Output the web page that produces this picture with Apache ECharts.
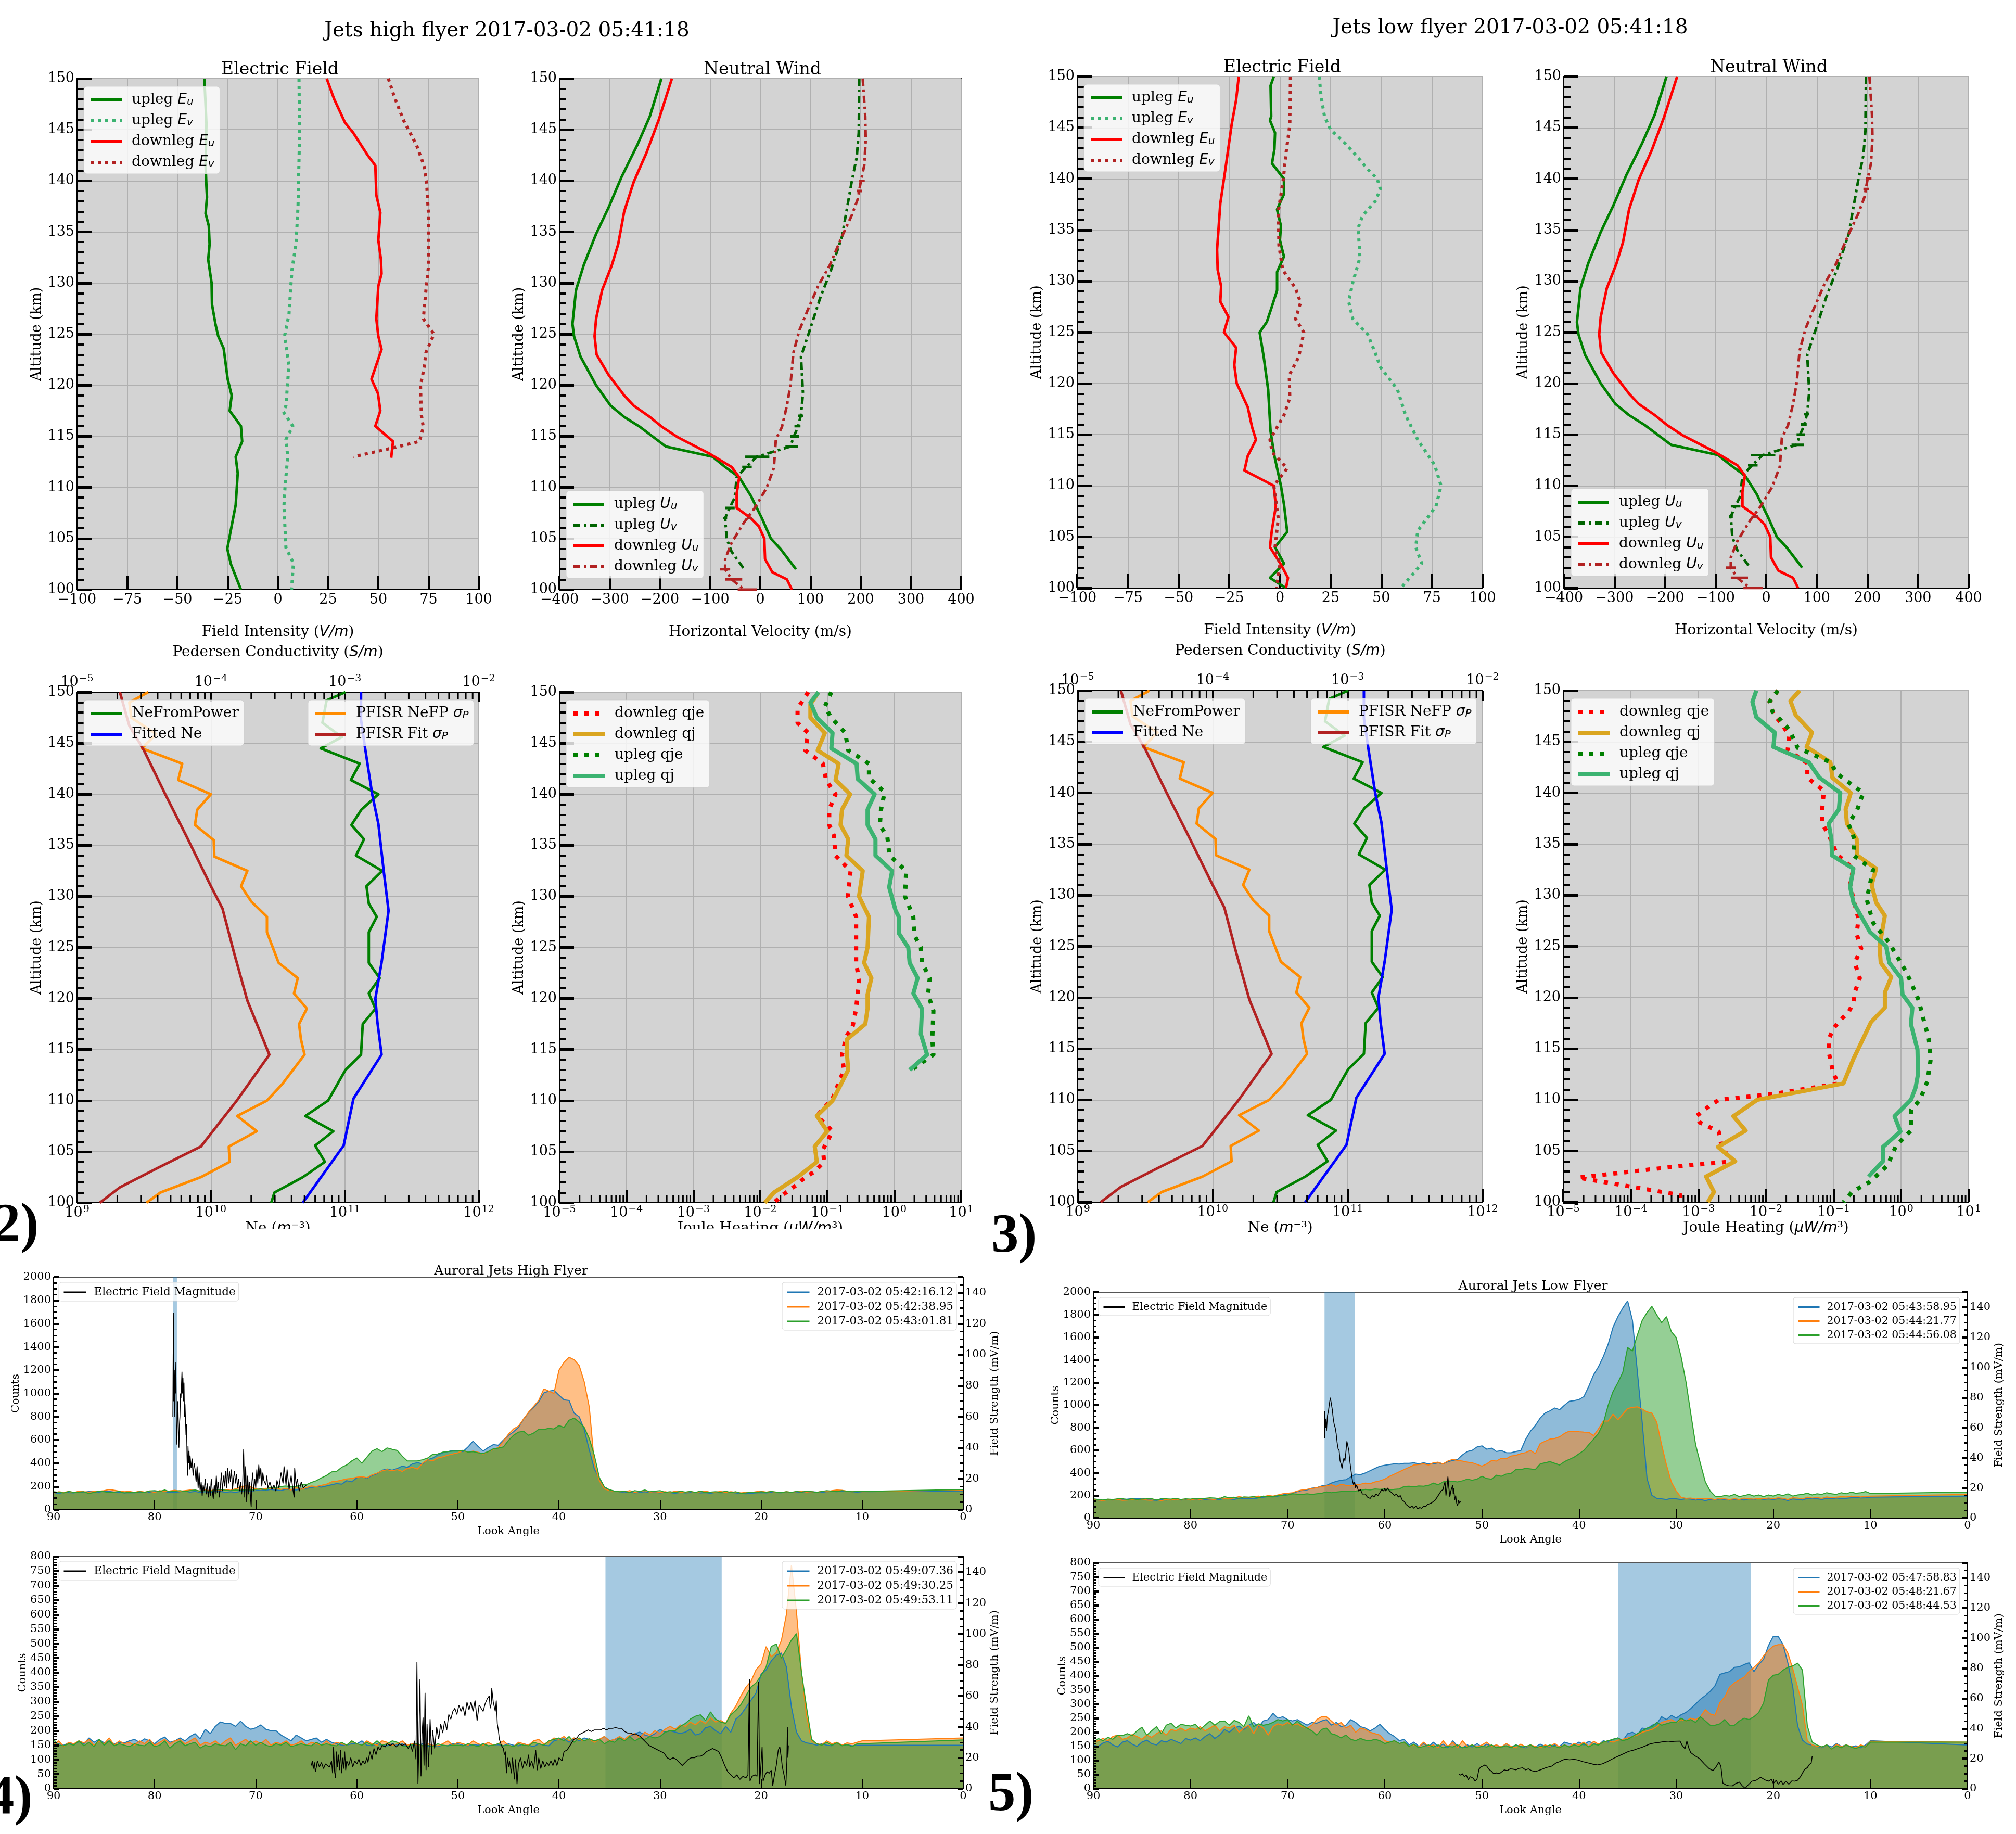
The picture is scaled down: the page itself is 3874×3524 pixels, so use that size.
<!DOCTYPE html>
<html><head><meta charset="utf-8">
<style>html,body{margin:0;padding:0;background:#fff}#c{width:3874px;height:3524px}</style>
<script src="https://cdn.jsdelivr.net/npm/echarts@6/dist/echarts.min.js"></script>
</head><body><div id="c"></div>
<script>
/* ---------- profile data: [value, altitude km] ---------- */
const upEuHigh=[[-36.6,150],[-36,147.4],[-35.6,145.6],[-36,141.5],[-35.6,139.5],[-35.3,138.4],[-36,136.8],[-34.4,135.6],[-34,133.8],[-34.7,132.3],[-33,130],[-32.8,127.9],[-31,125.9],[-29.7,124.8],[-27,123.6],[-25,120.6],[-23,119],[-24,117.5],[-18.4,116],[-17.8,114.5],[-21,113],[-20,111.4],[-21,108.3],[-25.2,104],[-23.4,102.5],[-18.4,100]];
const upEvHigh=[[10.5,150],[10.8,144.7],[10,137.4],[9,133.8],[7,131.3],[5.5,126.9],[3.3,124.8],[5.5,122],[4,118],[2.7,117.4],[7.4,116],[4,114.7],[4.9,113],[3.6,110.2],[3,108.2],[4,104.1],[7.7,102.6],[6.8,100]];
const downEuHigh=[[24.3,150],[28,148],[33.4,145.7],[37.5,144.7],[44.7,142.5],[48.5,141.5],[49,138.6],[51,136.9],[50,134.2],[51.3,132.3],[51.6,130.9],[50,129.7],[49,126.5],[50,124.8],[51.6,123.5],[49,122],[46.6,120.6],[49.8,119.2],[51,117.5],[48.5,116],[57.3,114.5],[56.4,112.9]];
const downEvHigh=[[55,150],[58,148.2],[62.6,145.9],[69,143.5],[72.7,141.5],[74,139.9],[75,136.6],[75,131.7],[73.7,129.3],[72.4,126.5],[77.7,125],[73.7,123.2],[72.7,121.6],[71,120],[71.4,117.1],[72.4,115.9],[70.5,114.5],[58,113.9],[37.5,113]];
const upEuLow=[[-3,150],[-4.6,149.1],[-4.3,146.1],[-4.9,145.7],[-2.4,144.5],[-2.7,142.9],[-3.9,141.5],[2,140],[2,138.5],[-1.4,137],[0.5,135.4],[0,134],[2,132.4],[-1.4,130.9],[-1.4,129.1],[-4.3,127.3],[-6.5,126],[-10,125],[-8,122.6],[-5.8,119.4],[-4.6,115.3],[-2.7,112.9],[0.5,110],[2,108.2],[3.6,105.5],[-2.4,104],[2,102.4],[-4.9,101],[3,100]];
const upEvLow=[[19.4,150],[20.3,148.1],[22,146.1],[25,144.8],[32,143.5],[37.6,142.3],[43,141],[48,140],[49.6,139],[47,137.8],[40.8,136.4],[38.6,135.2],[39.5,132.3],[36,129.9],[33.9,128],[36,126.3],[43.3,124.8],[47,123],[49.6,121.6],[58,119.4],[62,116.9],[68,114.5],[76.4,112],[79.5,110],[77,108],[68,105.6],[67,104],[70,102.4],[59.7,100]];
const downEuLow=[[-20.3,150],[-21.6,147.7],[-23.8,145.3],[-27,140.8],[-29.4,137.6],[-31,133.1],[-30.7,131.1],[-29,129.5],[-29.4,128],[-25.4,126.5],[-27.6,125],[-21.6,123.5],[-22.5,121.8],[-21.3,120],[-15.9,117.7],[-13.7,115.7],[-11.8,114.5],[-15.9,112.9],[-17.5,111.5],[-3,110],[-2,108],[-4,105.6],[-4.9,104],[0.5,102.3],[4,101],[3,100]];
const downEvLow=[[5.2,150],[4.9,145.3],[3,142.5],[1.7,140],[-0.8,136.8],[-0.5,133.5],[1.4,131.1],[7.7,129.3],[10.2,127.9],[7.7,126.3],[11.8,125],[9.3,122.6],[4.6,120.8],[4.9,118.6],[2,116.9],[-4.9,114.5],[-3.9,113.3],[3.6,111.7],[-3,110],[-0.8,106.8],[-2.4,104],[0,102.3],[-1.7,100]];

const upUu=[[-197,150],[-220,146.3],[-245,143.5],[-277,140.3],[-302,137.4],[-327,134.8],[-352,131.7],[-367,129.3],[-374,126],[-371,124.8],[-358,122.8],[-327,120],[-298,118],[-271,116.9],[-239,115.9],[-188,114],[-95,113],[-70,112],[-42,111],[-19,109.2],[3,107],[21,105],[40,104],[71,102]];
const upUv=[[197,150],[196,144.7],[192,142.3],[182,139.9],[169,136.3],[163,134.6],[141,131.3],[119,128.5],[100,125.6],[81,122.8],[85,119.2],[81,117.1],[75,115.9],[66,114.9],[60,114],[-7,113],[-28,112],[-47,111],[-51,109],[-61,108],[-70,107],[-67,105],[-57,103.7],[-32,102]];
const downUu=[[-176,150],[-202,146],[-227,142.7],[-252,139.9],[-271,137],[-283,133.8],[-296,131.7],[-315,129.3],[-327,126.5],[-330,124.8],[-326,123],[-302,121],[-271,119],[-252,118],[-220,116.9],[-195,115.9],[-164,114.9],[-101,113.3],[-57,112],[-42,111],[-47,109.4],[-47,108],[-19,107],[-3,106.2],[8,105],[9.5,103],[24,101.7],[53,101],[63,100]];
const downUv=[[204,150],[209,146.3],[210,144],[207,141.5],[200,139.9],[194,138.2],[182,136.6],[163,134.6],[138,131.7],[115,129.7],[94,127.3],[78,125.4],[66,123.2],[60,120],[53,118],[43,115.9],[31,114.7],[27,111.9],[12,109.9],[-11,108],[-32,106.6],[-57,104.6],[-70,103],[-70,102],[-57,101],[-32,100]];
const gap=['-','-'];
const upUvRuns=[[50,114],[75,114],gap,[-30,113],[18,113],gap,[-36,112],[-17,112],gap,[60,115],[77,115],gap,[68,116],[80,116],gap,[75,117],[85,117],gap,[-70,108],[-51,108],gap,[-74,107],[-66,107]];
const downUvRuns=[[-45,100],[-7,100],gap,[-70,101],[-36,101],gap,[-80,102],[-60,102],gap,[-27,107],[-16,107],gap,[197,140],[208,140],gap,[192,139],[203,139]];

const neFromPower=[[1.01e11,150],[7.3e10,149.2],[6.8e10,147],[9.5e10,145.6],[6.6e10,144.5],[1.29e11,143],[1.11e11,141.4],[1.78e11,140],[1.33e11,138.5],[1.12e11,137],[1.39e11,135.6],[1.21e11,134],[1.9e11,132.5],[1.45e11,131],[1.51e11,129.3],[1.73e11,128],[1.51e11,126.5],[1.51e11,123.5],[1.82e11,122],[1.51e11,120.5],[1.69e11,119],[1.36e11,117.5],[1.32e11,114.5],[1.01e11,113],[7.5e10,110],[5.07e10,108.5],[8.2e10,107],[6e10,105.6],[7.1e10,104],[4.85e10,102.5],[2.98e10,101],[2.82e10,100]];
const fittedNe=[[1.32e11,150],[1.32e11,147.3],[1.41e11,144.7],[1.6e11,140],[1.78e11,137.1],[1.95e11,132.5],[2.12e11,128.6],[1.88e11,123.5],[1.69e11,120],[1.75e11,117.7],[1.88e11,114.5],[1.16e11,110.2],[9.8e10,105.6],[4.85e10,100]];
const sigmaNeFP=[[3.4e-5,150],[2.46e-5,149],[2.54e-5,147.5],[3.9e-5,145.9],[3.05e-5,144.5],[6.1e-5,143],[5.7e-5,141.4],[1e-4,140],[7.9e-5,138.5],[7.6e-5,137],[1.05e-4,135.5],[1.06e-4,133.9],[1.87e-4,132.5],[1.68e-4,131],[2e-4,129.5],[2.62e-4,128],[2.62e-4,126.5],[3.2e-4,123.5],[4.45e-4,122],[4.17e-4,120.5],[5.2e-4,119],[4.55e-4,117.5],[4.7e-4,116],[5e-4,114.5],[3.4e-4,111.6],[2.62e-4,110],[1.57e-4,108.5],[2.2e-4,107],[1.36e-4,105.5],[1.38e-4,104],[8.4e-5,102.5],[4.2e-5,101],[3.3e-5,100]];
const sigmaFit=[[2.09e-5,150],[2.46e-5,146.7],[3.16e-5,144.3],[4.56e-5,140],[6.5e-5,136],[1e-4,131],[1.22e-4,128.8],[1.5e-4,124.3],[1.87e-4,119.8],[2.73e-4,114.5],[1.56e-4,110],[8.4e-5,105.5],[4e-5,103.4],[2.09e-5,101.5],[1.48e-5,100]];

const dnQjeHigh=[[.052,150],[.036,148.4],[.036,147],[.052,146],[.047,144.3],[.086,143],[.096,141.4],[.133,140],[.107,138.5],[.107,137],[.125,136],[.133,134],[.223,132.5],[.204,130],[.27,128],[.27,123.5],[.298,121.8],[.27,119],[.24,117.3],[.193,116.3],[.166,114.5],[.177,113],[.12,110.2],[.07,108.5],[.12,107],[.086,105.2],[.09,104],[.063,103],[.047,102.5],[.034,101.7],[.021,100.7],[.016,100]];
const dnQjHigh=[[.074,150],[.056,148.8],[.056,147.5],[.092,146],[.072,144.3],[.148,143],[.133,141.4],[.22,140],[.166,138.5],[.158,137],[.206,135.6],[.193,134],[.339,132.5],[.298,130],[.42,128],[.4,125],[.355,123.5],[.457,122],[.4,120.4],[.4,119],[.37,117.5],[.197,116],[.197,114.5],[.206,113],[.12,110],[.07,108.5],[.1,107],[.065,105.5],[.07,104],[.036,102.5],[.016,101],[.0117,100]];
const upQjeHigh=[[.115,150],[.092,148.6],[.115,147.5],[.186,146],[.206,144.3],[.42,143],[.42,141.6],[.72,140.2],[.635,138.5],[.61,137],[.79,135.8],[.85,134],[1.51,132.5],[1.45,130],[1.93,128],[2,126.2],[2.5,125],[2.6,123.5],[3.4,122],[3.2,120.4],[3.85,118.8],[3.7,116],[3.85,114.5],[1.8,113]];
const upQjHigh=[[.074,150],[.056,149],[.07,147.5],[.12,146],[.115,144.5],[.274,143],[.285,141.5],[.51,140],[.4,138.5],[.4,137],[.525,135.6],[.525,134],[.93,132.5],[.84,130.9],[1.05,128.6],[1.17,128],[1.17,126.4],[1.62,125],[1.7,123.5],[2.24,122],[1.93,120.5],[2.6,119],[2.5,116.5],[3.1,114.5],[1.7,113]];
const dnQjeLow=[[.015,150],[.0113,148.9],[.0129,147.7],[.017,146.8],[.022,145.6],[.021,144.2],[.041,142.9],[.041,141.5],[.072,140.2],[.068,138.4],[.068,137],[.085,135.9],[.112,134],[.197,132.6],[.176,131.2],[.197,129.6],[.234,127.7],[.22,126.2],[.257,124.8],[.206,123.4],[.245,121.9],[.206,120.5],[.197,119.5],[.168,118.6],[.126,117.8],[.1,117],[.086,116],[.086,114.5],[.1,112.5],[.12,111.6],[.0135,110.6],[.002,110],[.00145,109.4],[.00093,108.4],[.00104,107.8],[.002,106.9],[.0022,105.5],[.0028,104.4],[.0034,104],[.00048,103.5],[.0000166,102.4],[.00054,100.7],[.00054,100]];
const dnQjLow=[[.0316,150],[.023,149],[.0275,147.6],[.048,145.9],[.04,144.5],[.09,143],[.096,141.5],[.18,140],[.151,138.4],[.158,137],[.22,135.5],[.224,133.9],[.427,132.6],[.367,131],[.427,129.3],[.575,128],[.48,125],[.5,123.4],[.716,122],[.575,120.5],[.575,119],[.359,117.6],[.275,116],[.197,114],[.14,111.6],[.0074,110],[.0033,108.4],[.005,107],[.00195,105.4],[.0035,104],[.0013,102.5],[.0017,101],[.00138,100]];
const upQjeLow=[[.015,150],[.0113,148.9],[.0126,147.9],[.0162,147.2],[.022,146.2],[.026,145.2],[.0295,144.4],[.09,143],[.112,141.9],[.275,140],[.22,138.2],[.166,137],[.204,135.5],[.197,133.9],[.385,132.5],[.31,129.6],[.385,127.3],[.676,125.3],[.84,124.2],[1.17,122.6],[1.4,121.5],[1.83,119.7],[2.2,117.6],[2.57,116],[2.75,114],[2.45,111.8],[1.9,110],[1.4,109],[1.4,107],[.84,105.5],[.63,103.6],[.347,102],[.188,101],[.14,100]];
const upQjLow=[[.0072,150],[.0063,148.9],[.0072,147.4],[.0135,145.9],[.0129,144.5],[.043,143],[.0617,141.5],[.126,140],[.12,138.4],[.085,137],[.093,135.5],[.095,133.9],[.197,132.6],[.176,130.8],[.197,129.3],[.347,126.4],[.6,125],[.67,123.4],[1,121.9],[1.05,120.3],[1.47,119],[1.4,117.4],[1.75,114.9],[1.78,112.5],[1.64,111.2],[1.4,110],[.8,108.4],[.98,106.9],[.54,105.4],[.54,104],[.33,102.5]];

/* ---------- look-angle scans: counts sampled at 90..10 by 0.5 deg, then 0 ---------- */
const lookAngles=Array.from({length:161},(_,i)=>90-i*0.5).concat([0]);
const c1Blue=[150,140,152,148,145,155,150,158,155,152,160,158,152,150,145,148,146,150,148,152,
155,160,158,148,150,155,160,152,158,150,155,148,162,158,150,155,150,158,165,160,
165,172,168,175,170,165,178,172,170,180,185,190,200,195,205,215,225,220,250,240,
275,285,270,295,310,340,350,340,355,375,365,395,405,395,430,445,470,490,500,510,
510,500,540,590,545,505,535,560,555,600,640,670,710,780,835,880,930,1005,1020,1027,
985,945,940,830,800,690,515,350,270,195,170,160,155,150,152,145,150,155,148,150,
145,150,148,142,150,145,148,150,145,148,142,150,146,148,150,145,140,138,142,145,
148,145,150,148,146,152,150,148,152,150,155,152,150,155,158,155,160,158,155,152,
155,162];
const c1Orange=[145,155,150,158,148,160,155,152,158,160,165,175,168,160,155,158,150,160,152,158,
150,165,158,162,168,160,165,170,168,160,170,165,172,165,175,168,180,195,208,200,
180,175,185,180,190,175,185,170,195,175,190,205,200,210,220,240,245,255,265,270,
280,285,275,300,315,335,345,335,345,330,355,365,350,400,430,420,445,455,470,480,
490,510,495,505,495,480,500,520,535,590,650,695,720,780,840,890,940,1040,1020,1000,
1200,1267,1311,1290,1240,1100,883,400,250,180,165,160,158,155,165,150,158,165,152,155,
150,155,148,160,152,150,158,148,155,160,150,152,158,148,155,150,145,150,148,155,
160,152,158,150,148,155,150,155,158,152,155,150,158,155,165,170,168,160,155,158,
155,170];
const c1Green=[155,150,145,158,150,152,155,140,150,160,155,148,152,158,145,150,148,155,150,162,
165,158,170,155,160,165,158,165,170,160,165,158,172,175,168,165,170,168,172,170,
175,180,172,195,190,200,205,198,200,215,215,235,250,275,295,325,330,365,385,420,
445,400,452,505,525,500,532,520,510,460,420,420,420,430,444,476,480,495,500,505,
505,511,495,500,490,484,500,524,530,540,596,640,668,675,640,660,692,690,700,695,
724,708,770,788,755,708,612,468,276,196,172,160,155,158,150,165,158,170,155,160,
165,150,155,148,160,152,158,150,160,148,152,155,150,160,148,155,142,145,150,148,
155,150,158,152,148,155,150,158,152,160,155,150,158,165,160,158,165,160,155,158,
158,175];
const c2Blue=[165,160,158,165,160,170,165,168,172,170,175,165,160,158,165,160,165,168,160,165,
165,170,160,165,162,168,165,175,170,165,178,172,175,170,180,185,190,188,195,205,
215,220,235,245,250,265,270,285,290,310,325,335,340,365,390,385,400,420,440,460,
468,475,480,478,485,485,490,480,490,480,480,490,480,500,510,520,560,590,600,630,
640,610,620,590,598,580,578,590,598,697,770,820,886,930,950,975,960,1000,1035,1040,
1050,1076,1166,1270,1340,1430,1540,1690,1784,1860,1924,1750,1300,850,350,202,175,170,165,175,
170,165,172,168,160,165,155,165,160,170,165,160,168,165,160,170,165,175,165,170,
165,172,168,155,170,165,160,175,170,172,165,175,170,178,172,175,180,185,178,180,
185,195];
const c2Orange=[165,160,155,165,160,165,158,160,165,160,168,160,158,165,155,165,160,168,160,170,
160,170,165,172,168,165,178,175,170,180,190,182,180,190,195,190,200,195,205,215,
220,225,240,250,255,262,270,280,285,295,280,300,290,285,295,300,310,305,320,330,
345,370,390,410,430,450,470,475,480,470,490,495,480,505,520,510,505,495,490,475,
460,480,510,505,530,525,550,555,570,580,600,570,660,680,700,705,720,750,770,770,
765,762,760,730,790,860,860,920,870,920,970,980,985,965,940,930,850,650,470,320,
240,185,175,178,168,175,170,172,165,175,170,165,172,165,178,170,168,175,170,178,
172,180,175,165,180,178,170,185,178,182,175,188,180,185,190,188,195,190,188,192,
195,210];
const c2Green=[170,165,160,168,165,170,172,165,170,165,168,170,172,160,172,170,168,175,165,170,
168,175,172,175,180,178,172,190,180,185,175,188,185,190,180,195,190,192,198,200,
205,215,212,210,215,210,215,220,232,225,230,235,240,235,240,245,255,250,258,255,
258,250,255,258,280,282,278,285,282,290,310,295,320,330,325,320,330,345,335,345,
370,350,345,380,370,390,395,430,430,440,435,430,480,490,500,485,470,500,520,540,
570,600,650,700,750,840,1000,1120,1200,1290,1510,1480,1620,1750,1820,1875,1800,1730,1784,1650,
1600,1430,1210,927,650,480,320,240,195,190,200,195,210,190,200,210,195,205,190,205,
195,210,200,215,195,205,210,220,205,215,210,225,215,210,225,215,230,220,225,235,
218,230];
const c3Blue=[160,155,150,158,152,162,155,175,160,170,158,165,155,160,158,165,170,160,172,165,
155,170,178,160,165,175,165,180,190,172,205,190,215,230,225,225,215,233,215,205,
210,220,205,200,200,185,175,165,185,175,165,170,175,160,170,160,155,150,150,155,
155,165,150,148,155,150,148,155,150,155,145,150,148,155,145,150,145,150,148,155,
155,150,148,152,150,155,148,150,152,148,155,150,148,155,150,145,155,150,148,165,
170,172,160,175,165,175,170,165,170,180,165,170,175,165,180,190,195,185,180,190,
205,195,200,195,190,195,205,185,190,210,215,200,190,215,195,240,255,280,305,330,
395,410,440,460,468,420,282,195,165,158,155,150,155,150,148,160,150,152,148,150,
150,150];
const c3Orange=[150,165,145,160,155,165,158,170,150,165,155,175,150,165,155,160,150,165,155,170,
150,160,170,155,165,170,155,165,175,150,160,155,165,150,165,175,150,160,170,155,
165,155,170,150,160,155,165,150,155,165,150,160,155,150,165,150,160,155,150,165,
155,150,165,155,150,165,160,150,155,165,150,155,150,148,155,150,148,155,165,150,
160,155,150,165,155,150,160,150,155,165,150,145,160,155,150,165,170,155,160,175,
170,180,165,175,170,165,172,160,170,180,165,170,180,170,185,190,175,195,185,200,
190,205,215,205,220,215,230,220,235,225,245,230,235,225,260,285,320,350,370,410,
430,490,455,470,510,600,771,610,400,250,165,155,152,165,155,160,150,158,155,160,
165,175];
const c3Green=[170,150,148,155,150,165,148,160,145,170,150,165,148,155,150,145,155,150,148,160,
145,150,165,140,155,165,148,155,160,140,150,145,155,150,148,160,135,155,148,165,
150,160,150,145,155,150,160,145,150,155,150,148,160,150,155,150,148,160,150,165,
155,150,160,150,165,150,155,165,160,148,145,152,155,148,150,145,155,150,148,150,
150,148,155,150,145,155,148,150,155,148,150,145,155,150,148,160,155,150,165,170,
175,165,180,160,175,165,172,165,170,155,165,160,175,165,180,165,175,170,180,175,
180,195,200,200,215,225,240,250,255,235,265,240,230,225,255,270,290,320,350,365,
390,420,490,499,450,480,512,535,400,280,170,155,150,160,150,158,148,152,145,155,
155,168];
const c4Blue=[155,150,162,168,155,148,165,170,158,150,165,172,160,155,170,165,175,168,160,178,
172,180,170,185,195,178,190,210,200,215,222,210,225,235,218,240,245,267,250,255,
245,240,245,235,225,235,232,240,245,225,235,220,225,245,235,220,215,205,215,228,
210,195,185,170,175,155,165,150,160,148,165,150,158,145,170,150,145,155,148,160,
148,158,150,155,145,160,148,155,150,145,155,148,158,150,148,155,150,165,160,155,
165,155,168,160,155,170,165,175,180,170,195,200,190,215,212,225,230,255,245,260,
250,262,270,284,300,317,330,345,365,405,410,415,430,432,440,446,415,440,459,507,
540,540,510,445,360,223,172,158,155,150,145,155,148,160,150,155,148,152,145,155,
170,155];
const c4Orange=[165,170,178,170,185,190,175,180,192,185,175,190,182,195,205,190,210,205,215,205,
215,210,220,205,215,225,205,220,215,225,200,215,225,195,225,215,190,220,230,225,
235,225,230,220,215,225,245,255,255,240,225,235,215,225,200,215,210,200,195,190,
170,165,170,160,165,150,155,148,165,150,155,145,170,150,165,145,170,150,155,148,
155,165,150,155,148,160,150,145,158,148,155,150,145,155,150,160,148,155,150,160,
155,165,150,168,158,165,170,165,172,175,180,185,190,200,205,210,220,235,240,245,
235,245,240,250,245,255,280,265,260,305,325,360,375,385,395,415,430,445,470,490,
505,510,510,480,425,360,295,170,155,150,148,155,140,158,148,155,150,145,155,150,
168,165];
const c4Green=[165,178,170,182,175,190,188,195,188,205,218,190,205,220,195,225,232,215,228,225,
222,228,210,225,240,225,238,240,225,242,235,220,258,220,230,225,228,235,245,240,
245,225,240,225,215,205,190,210,215,195,190,180,190,175,170,178,172,170,175,170,
160,165,170,160,165,150,158,145,150,155,148,155,145,150,148,155,145,148,155,145,
150,148,155,145,148,152,145,155,148,150,155,145,150,148,155,150,145,155,148,155,
150,160,148,158,155,165,170,175,180,170,175,185,195,205,215,220,235,225,230,235,
235,250,240,245,235,255,240,225,225,230,245,225,225,240,250,245,255,270,304,385,
402,405,420,430,435,445,420,223,165,155,148,155,140,152,145,155,148,142,150,148,
165,165];

/* ---------- electric-field magnitude traces: [look angle, mV/m] ---------- */
const fieldHighTop=[[78.2,60],[78.15,127],[78.12,70],[78.1,95],[78.05,60],[78,90],[77.95,75],[77.9,95],[77.85,55],[77.8,42],[77.75,60],[77.7,70],[77.65,50],[77.6,40],[77.55,55],[77.5,60],[77.45,75],[77.4,72],[77.35,80],[77.3,89],[77.25,75],[77.2,85],[77.15,70],[77.1,82],[77.05,60],[77,68],[76.95,58],[76.9,48],[76.85,55],[76.8,35],[76.75,22],[76.7,41],[76.65,30],[76.6,38],[76.55,26],[76.5,35],[76.4,27],[76.3,33],[76.2,22],[76.1,30],[76,26],[75.9,18],[75.8,28],[75.7,14],[75.6,24],[75.5,12],[75.4,18],[75.3,9],[75.2,16],[75.1,12],[75,20],[74.9,10],[74.8,17],[74.7,8],[74.6,15],[74.5,9],[74.4,20],[74.3,12],[74.2,7],[74.1,16],[74,10],[73.9,22],[73.8,11],[73.7,18],[73.6,8],[73.5,15],[73.4,24],[73.3,12],[73.2,22],[73.1,15],[73,25],[72.9,14],[72.8,27],[72.7,17],[72.6,25],[72.5,18],[72.4,26],[72.3,13],[72.2,20],[72.1,25],[72,17],[71.9,23],[71.8,14],[71.7,20],[71.6,12],[71.5,18],[71.4,10],[71.3,16],[71.2,39],[71.1,8],[71,28],[70.9,5],[70.8,22],[70.7,10],[70.6,18],[70.5,6],[70.45,2],[70.4,16],[70.3,24],[70.2,12],[70.1,20],[70,14],[69.9,26],[69.8,17],[69.7,29],[69.6,20],[69.5,27],[69.4,15],[69.3,24],[69.2,19],[69,16],[68.9,22],[68.8,14],[68.6,18],[68.4,13],[68.2,16],[68,12],[67.9,19],[67.7,14],[67.5,24],[67.3,17],[67.2,28],[67,16],[66.9,26],[66.7,13],[66.5,22],[66.3,12],[66.2,8],[66.15,27],[66,15],[65.9,20],[65.7,12],[65.5,18],[65.3,14],[65,16]];
const fieldLowTop=[[66.2,53],[66.18,71],[66.1,60],[66.05,66],[66,58],[65.9,68],[65.8,71],[65.7,76],[65.6,80],[65.5,76],[65.4,72],[65.3,66],[65.2,62],[65.1,60],[65,56],[64.9,50],[64.8,46],[64.7,45],[64.6,38],[64.5,36],[64.4,33],[64.3,37],[64.2,40],[64.1,38],[64,44],[63.9,51],[63.8,48],[63.7,45],[63.6,38],[63.5,33],[63.4,28],[63.3,24],[63.2,22],[63.1,24],[63,20],[62.9,22],[62.7,18],[62.5,19],[62.3,16],[62,16],[61.8,14],[61.5,13],[61.3,15],[61.1,14],[60.9,16],[60.7,15],[60.5,17],[60.3,19],[60.1,18],[60,20],[59.9,18],[59.7,20],[59.5,18],[59.3,17],[59,15],[58.8,16],[58.6,14],[58.4,15],[58.2,12],[58,11],[57.8,9],[57.6,8],[57.4,7],[57.2,8],[57,6.5],[56.8,8],[56.6,6],[56.4,7],[56.2,6.5],[56,8],[55.8,7.5],[55.6,9],[55.4,9.5],[55.2,10],[55,11],[54.8,12],[54.6,14],[54.4,16],[54.2,18],[54,19],[53.9,22],[53.8,24],[53.7,15],[53.6,20],[53.5,27.5],[53.4,20],[53.3,14],[53.2,18],[53,22],[52.95,16],[52.9,20],[52.8,12],[52.7,15],[52.6,10],[52.5,8],[52.4,12],[52.3,10],[52.2,11]];
const fieldHighBottom=[[64.5,15],[64.4,18],[64.3,13],[64.2,17],[64.1,11],[64,14],[63.9,18],[63.7,14],[63.5,17],[63.3,13],[63.1,16],[62.9,15],[62.7,14],[62.5,18],[62.4,10],[62.3,27],[62.2,11],[62.1,7],[62,24],[61.9,14],[61.8,22],[61.7,12],[61.6,25],[61.5,10],[61.4,20],[61.3,13],[61.2,24],[61.1,12],[61,18],[60.8,15],[60.6,20],[60.4,14],[60.2,18],[60,16],[59.8,19],[59.6,15],[59.4,18],[59.2,16],[59,20],[58.9,17],[58.7,24],[58.5,19],[58.3,26],[58.1,22],[57.9,27],[57.7,25],[57.5,28],[57.2,27],[57,29],[56.7,28],[56.4,29],[56.1,27],[55.8,29],[55.5,28],[55.2,29],[54.9,26],[54.7,29],[54.5,24],[54.3,31],[54.15,19],[54.05,82],[53.95,3],[53.85,30],[53.75,71],[53.65,8],[53.55,35],[53.45,46],[53.35,15],[53.25,62],[53.15,12],[53.05,42],[52.9,14],[52.75,45],[52.6,22],[52.5,38],[52.3,26],[52.1,40],[51.9,32],[51.7,42],[51.5,36],[51.3,44],[51.1,38],[50.9,48],[50.7,45],[50.5,50],[50.3,52],[50.1,48],[49.9,54],[49.7,50],[49.5,53],[49.3,47],[49.1,56],[48.9,51],[48.7,56],[48.5,50],[48.3,57],[48.1,44],[47.9,54],[47.7,52],[47.5,50],[47.3,55],[47.1,58],[46.9,60],[46.8,52],[46.7,55],[46.65,65],[46.5,56],[46.3,50],[46.2,57],[46.1,42],[46,38],[45.9,32],[45.7,28],[45.5,26],[45.4,22],[45.3,24],[45.2,10],[45.1,20],[45,14],[44.9,18],[44.7,10],[44.6,20],[44.4,6],[44.3,19],[44.15,3],[44,16],[43.8,20],[43.6,13],[43.4,18],[43.2,15],[43,22],[42.9,14],[42.7,18],[42.5,13],[42.3,25],[42.15,12],[42,20],[41.8,13],[41.6,18],[41.4,14],[41.2,17],[41,15],[40.8,18],[40.6,15],[40.4,19],[40.2,15],[40,20],[39.7,18],[39.5,24],[39.2,25],[39,27],[38.7,30],[38.5,32],[38.2,33],[38,35],[37.7,36],[37.4,37],[37.1,38],[36.8,37],[36.5,38],[36.2,38],[35.9,38],[35.6,39],[35.3,38],[35,39],[34.7,39],[34.4,39.5],[34.1,39],[33.8,39],[33.5,37],[33.2,36],[32.9,36],[32.6,35],[32.3,35],[32,34],[31.7,32],[31.4,30],[31.1,28],[30.8,27],[30.5,26],[30.2,25],[29.9,24],[29.6,23],[29.3,20],[29,19],[28.7,20],[28.4,19],[28.1,17],[27.8,15],[27.5,17],[27.2,19],[26.9,20],[26.6,20],[26.3,21],[26,21],[25.7,22],[25.4,24],[25.1,25],[24.8,26],[24.5,25],[24.2,24],[23.9,20],[23.6,15],[23.3,11],[23,9],[22.7,7],[22.4,9],[22.1,6],[21.8,8],[21.5,7],[21.3,9],[21.15,71],[21.1,5],[20.9,8],[20.6,9],[20.4,8],[20.25,69],[20.15,3],[20.05,12],[19.9,27],[19.8,5],[19.6,9],[19.4,11],[19.2,10],[19,12],[18.85,2],[18.7,8],[18.5,15],[18.3,25],[18.15,27],[18,20],[17.9,14],[17.7,8],[17.55,2],[17.45,18],[17.4,40],[17.35,20],[17.3,28]];
const fieldLowBottom=[[52.4,10],[52.2,9],[52,10],[51.8,8],[51.6,9],[51.4,6],[51.2,8],[50.9,7],[50.7,5],[50.5,6.5],[50.3,13],[50.1,14.5],[49.9,15],[49.7,15.8],[49.5,15],[49.3,13],[49,11.5],[48.8,10],[48.5,10.5],[48.2,10],[48,11],[47.7,12.5],[47.4,12],[47.1,13.2],[46.8,13],[46.5,12.5],[46.2,13.5],[45.8,13.9],[45.5,12.5],[45.2,13.2],[44.9,12],[44.5,11.4],[44.2,12],[43.8,13],[43.4,14],[42.8,15],[42.4,17],[42,18],[41.7,19],[41.4,19.6],[41,19.2],[40.5,19.5],[40.1,19],[39.6,18],[39,17],[38.5,16.2],[38.1,15.8],[37.6,16.5],[37.1,18],[36.5,20],[36,21.5],[35.5,23],[34.9,24.8],[34.4,25.6],[34,26.5],[33.5,27.6],[32.7,29.7],[32.2,30.4],[31.7,30.8],[31.3,31.3],[30.8,31],[30.2,31.5],[29.6,31.6],[29.4,29],[29.1,26.5],[28.9,31.6],[28.7,27],[28.5,24],[28.1,22],[27.6,20],[27.1,16.5],[26.6,13.3],[26.2,12],[25.9,14.5],[25.6,17.7],[25.4,15],[25.2,3.8],[24.9,2.6],[24.6,2],[24.2,1.9],[23.9,3.4],[23.5,4.4],[23.2,2],[22.9,0.2],[22.6,2.5],[22.2,5],[21.8,5.5],[21.3,7.6],[20.9,6],[20.5,5],[20.2,6.2],[20,3.5],[19.7,5.6],[19.5,3],[19.2,5.2],[19,2.8],[18.7,5],[18.4,3],[18.1,5.2],[17.8,5],[17.5,5.6],[17.2,8],[16.8,12.7],[16.5,14],[16.3,16],[16.1,17],[16,21.5]];

const stampsHighTop=['2017-03-02 05:42:16.12','2017-03-02 05:42:38.95','2017-03-02 05:43:01.81'];
const stampsLowTop=['2017-03-02 05:43:58.95','2017-03-02 05:44:21.77','2017-03-02 05:44:56.08'];
const stampsHighBottom=['2017-03-02 05:49:07.36','2017-03-02 05:49:30.25','2017-03-02 05:49:53.11'];
const stampsLowBottom=['2017-03-02 05:47:58.83','2017-03-02 05:48:21.67','2017-03-02 05:48:44.53'];
const fieldName='Electric Field Magnitude';

/* ---------- layout and style ---------- */
const SERIF='DejaVu Serif', SANS='DejaVu Sans';
const C={green:'#008000',sea:'#3cb371',red:'#ff0000',brick:'#b22222',dark:'#006400',blue:'#0000ff',orange:'#ff8c00',gold:'#daa520'};
const grid=[],xAxis=[],yAxis=[],series=[],legend=[],title=[];
const gridBox=(l,t,r,b,bg,border)=>{grid.push({left:l,top:t,width:r-l,height:b-t,show:true,backgroundColor:bg,borderColor:border,borderWidth:2,containLabel:false});return grid.length-1;};
const addX=o=>{xAxis.push(o);return xAxis.length-1;};
const addY=o=>{yAxis.push(o);return yAxis.length-1;};
const minusLabel=v=>String(v).replace('-','−');
const powLabel=v=>'{n|10}{e|'+minusLabel(Math.round(Math.log10(v)))+'}';
const powRich={n:{fontFamily:SERIF,fontSize:27,color:'#000'},e:{fontFamily:SERIF,fontSize:19,color:'#000',verticalAlign:'top',padding:[0,0,12,1]}};
const mathRich=size=>({i:{fontFamily:SANS,fontStyle:'italic',fontSize:size,color:'#000'},s:{fontFamily:SANS,fontStyle:'italic',fontSize:Math.round(size*.7),color:'#000',verticalAlign:'bottom',padding:[8,0,0,0]}});
const legendMath={'upleg Eu':'upleg {i|E}{s|u}','upleg Ev':'upleg {i|E}{s|v}','downleg Eu':'downleg {i|E}{s|u}','downleg Ev':'downleg {i|E}{s|v}',
 'upleg Uu':'upleg {i|U}{s|u}','upleg Uv':'upleg {i|U}{s|v}','downleg Uu':'downleg {i|U}{s|u}','downleg Uv':'downleg {i|U}{s|v}',
 'PFISR NeFP σP':'PFISR NeFP {i|σ}{s|P}','PFISR Fit σP':'PFISR Fit {i|σ}{s|P}'};
const axisLineStyle={show:true,onZero:false,lineStyle:{color:'#000',width:2}};

function altitudeAxis(g){return addY({gridIndex:g,type:'value',min:100,max:150,interval:5,
 name:'Altitude (km)',nameLocation:'middle',nameGap:64,nameTextStyle:{fontFamily:SERIF,fontSize:27,color:'#000'},
 axisLabel:{fontFamily:SERIF,fontSize:27,color:'#000',margin:5},
 axisLine:axisLineStyle,
 axisTick:{show:true,inside:true,length:28,lineStyle:{color:'#000',width:5}},
 minorTick:{show:true,splitNumber:5,length:13,lineStyle:{color:'#000',width:4}},
 splitLine:{show:true,lineStyle:{color:'#b0b0b0',width:2}}});}
function linearX(g,min,max,interval,name){return addX({gridIndex:g,type:'value',min,max,interval,position:'bottom',
 name,nameLocation:'middle',nameGap:68,nameTextStyle:{fontFamily:SERIF,fontSize:28,color:'#000',rich:mathRich(28)},
 axisLabel:{fontFamily:SERIF,fontSize:27,color:'#000',margin:6,formatter:minusLabel},
 axisLine:axisLineStyle,
 axisTick:{show:true,inside:true,length:27,lineStyle:{color:'#000',width:4}},
 splitLine:{show:true,lineStyle:{color:'#b0b0b0',width:2}}});}
function logX(g,min,max,name,pos,split){return addX({gridIndex:g,type:'log',logBase:10,min,max,position:pos,
 name,nameLocation:'middle',nameGap:pos==='top'?62:36,nameTextStyle:{fontFamily:SERIF,fontSize:28,color:'#000',rich:mathRich(28)},
 axisLabel:{fontFamily:SERIF,fontSize:27,color:'#000',margin:4,formatter:powLabel,rich:powRich},
 axisLine:axisLineStyle,
 axisTick:{show:true,inside:true,length:pos==='top'?19:25,lineStyle:{color:'#000',width:4}},
 splitLine:{show:split,lineStyle:{color:'#b0b0b0',width:2}}});}
function logMinorTicks(xi,yi,lo,hi,atAlt,dir){
 const vals=[];for(let e=lo;e<hi;e++)for(let m=2;m<10;m++)vals.push([m*Math.pow(10,e),atAlt]);
 series.push({type:'custom',xAxisIndex:xi,yAxisIndex:yi,silent:true,clip:false,z:3,data:vals,encode:{x:0,y:1},
  renderItem:(p,api)=>{const c=api.coord([api.value(0),api.value(1)]);return {type:'line',shape:{x1:c[0],y1:c[1],x2:c[0],y2:c[1]+dir*14},style:{stroke:'#000',lineWidth:3}};}});}
function line(name,data,xi,yi,color,width,type){series.push({type:'line',name,data,xAxisIndex:xi,yAxisIndex:yi,symbol:'none',smooth:false,z:2,lineStyle:{color,width,type:type||'solid',cap:'butt',join:'round'},itemStyle:{color}});}
function profileLegend(left,top,names,lw){legend.push({left,top,orient:'vertical',data:names,itemWidth:60,itemHeight:1,itemGap:12,padding:[12,10,8,10],
 backgroundColor:'rgba(255,255,255,0.8)',borderColor:'rgba(204,204,204,0.8)',borderWidth:1,borderRadius:6,selectedMode:false,
 itemStyle:{opacity:0},lineStyle:{width:lw||5},formatter:n=>legendMath[n]||n,textStyle:{fontFamily:SERIF,fontSize:28,color:'#000',padding:[0,0,0,14],rich:mathRich(28)}});}
const DOT=[6,8],DASHDOT=[14,7,5,7],JDOT=[8,13];

function panelTitle(text,x,y){title.push({text,left:x,top:y,textAlign:'center',textStyle:{fontFamily:SERIF,fontSize:33,fontWeight:'normal',color:'#000'}});}
function efieldPanel(box,ue,ve,de,dv,leg,tx,ty){
 const g=gridBox(box[0],box[1],box[2],box[3],'#d3d3d3','#333');
 const x=linearX(g,-100,100,25,'Field Intensity ({i|V/m})'),y=altitudeAxis(g);
 line('upleg Eu',ue,x,y,C.green,5);line('upleg Ev',ve,x,y,C.sea,6,DOT);line('downleg Eu',de,x,y,C.red,5);line('downleg Ev',dv,x,y,C.brick,6,DOT);
 profileLegend(leg[0],leg[1],['upleg Eu','upleg Ev','downleg Eu','downleg Ev'],6);
 panelTitle('Electric Field',tx,ty);
}
function windPanel(box,leg,tx,ty){
 const g=gridBox(box[0],box[1],box[2],box[3],'#d3d3d3','#333');
 const x=linearX(g,-400,400,100,'Horizontal Velocity (m/s)'),y=altitudeAxis(g);
 line('upleg Uu',upUu,x,y,C.green,5);line('upleg Uv',upUv,x,y,C.dark,5,DASHDOT);line('downleg Uu',downUu,x,y,C.red,5);line('downleg Uv',downUv,x,y,C.brick,5,DASHDOT);
 line('upleg Uv runs',upUvRuns,x,y,C.dark,5);line('downleg Uv runs',downUvRuns,x,y,C.brick,5);
 profileLegend(leg[0],leg[1],['upleg Uu','upleg Uv','downleg Uu','downleg Uv'],6);
 panelTitle('Neutral Wind',tx,ty);
}
function densityPanel(box,leg1,leg2){
 const g=gridBox(box[0],box[1],box[2],box[3],'#d3d3d3','#333');
 const x=logX(g,1e9,1e12,'Ne ({i|m}⁻³)','bottom',true),xt=logX(g,1e-5,1e-2,'Pedersen Conductivity ({i|S/m})','top',false),y=altitudeAxis(g);
 logMinorTicks(x,y,9,12,100,-1);logMinorTicks(xt,y,-5,-2,150,1);
 line('NeFromPower',neFromPower,x,y,C.green,5);line('Fitted Ne',fittedNe,x,y,C.blue,5);
 line('PFISR NeFP σP',sigmaNeFP,xt,y,C.orange,5);line('PFISR Fit σP',sigmaFit,xt,y,C.brick,5);
 profileLegend(leg1[0],leg1[1],['NeFromPower','Fitted Ne'],6);
 profileLegend(leg2[0],leg2[1],['PFISR NeFP σP','PFISR Fit σP'],6);
}
function joulePanel(box,dq,dj,uq,uj,leg){
 const g=gridBox(box[0],box[1],box[2],box[3],'#d3d3d3','#333');
 const x=logX(g,1e-5,10,'Joule Heating ({i|μW/m}³)','bottom',true),y=altitudeAxis(g);
 logMinorTicks(x,y,-5,1,100,-1);
 line('downleg qje',dq,x,y,C.red,8,JDOT);line('downleg qj',dj,x,y,C.gold,8);line('upleg qje',uq,x,y,C.green,8,JDOT);line('upleg qj',uj,x,y,C.sea,8);
 profileLegend(leg[0],leg[1],['downleg qje','downleg qj','upleg qje','upleg qj'],8);
}
function scanPanel(box,cfg){
 const g=gridBox(box[0],box[1],box[2],box[3],'#ffffff','#555');
 const font={fontFamily:SERIF,fontSize:21,color:'#000'};
 const plain=v=>String(v);
 const x=addX({gridIndex:g,type:'value',inverse:true,min:0,max:90,interval:10,z:5,name:'Look Angle',nameLocation:'middle',nameGap:31,nameTextStyle:font,
  axisLabel:{...font,margin:4,formatter:plain},axisLine:axisLineStyle,axisTick:{show:true,inside:true,length:18,lineStyle:{color:'#000',width:2}},splitLine:{show:false}});
 const yl=addY({gridIndex:g,type:'value',position:'left',min:0,max:cfg.maxCounts,interval:cfg.step,z:5,name:'Counts',nameLocation:'middle',nameGap:cfg.countsGap,nameTextStyle:font,
  axisLabel:{...font,margin:5,formatter:plain},axisLine:axisLineStyle,axisTick:{show:true,inside:true,length:11,lineStyle:{color:'#000',width:4}},
  minorTick:{show:true,splitNumber:cfg.minor,length:6,lineStyle:{color:'#000',width:3}},splitLine:{show:false}});
 const yr=addY({gridIndex:g,type:'value',position:'right',min:0,max:150,interval:20,z:5,name:'Field Strength (mV/m)',nameLocation:'middle',nameRotate:90,nameGap:50,nameTextStyle:font,
  axisLabel:{...font,margin:4,showMaxLabel:false,formatter:plain},axisLine:axisLineStyle,axisTick:{show:true,inside:true,length:11,lineStyle:{color:'#000',width:4}},
  minorTick:{show:true,splitNumber:4,length:6,lineStyle:{color:'#000',width:3}},splitLine:{show:false}});
 const cols=['#1f77b4','#ff7f0e','#2ca02c'];
 cfg.counts.forEach((vals,i)=>{const c=cols[i];series.push({type:'line',name:cfg.names[i],xAxisIndex:x,yAxisIndex:yl,symbol:'none',z:2,data:lookAngles.map((a,k)=>[a,vals[k]]),
  lineStyle:{color:c,width:2},itemStyle:{color:c},areaStyle:{color:c,opacity:.5}});});
 series.push({type:'line',name:'span'+g,xAxisIndex:x,yAxisIndex:yr,symbol:'none',z:2,data:[],
  markArea:{silent:true,label:{show:false},itemStyle:{color:'rgba(31,119,180,0.4)'},data:[[{xAxis:cfg.span[0]},{xAxis:cfg.span[1]}]]}});
 series.push({type:'line',name:fieldName,xAxisIndex:x,yAxisIndex:yr,symbol:'none',z:3,data:cfg.field,lineStyle:{color:'#000',width:1.6},itemStyle:{color:'#000'}});
 const lf={itemWidth:cfg.legSwatch,itemHeight:1,itemGap:6,padding:[8,6,6,8],orient:'vertical',backgroundColor:'rgba(255,255,255,0.8)',borderColor:'rgba(204,204,204,0.8)',borderWidth:1,borderRadius:5,selectedMode:false,
  itemStyle:{opacity:0},lineStyle:{width:3},textStyle:{fontFamily:SERIF,fontSize:cfg.legFont,color:'#000',padding:[0,0,0,cfg.legPad]}};
 legend.push({...lf,left:cfg.leftLeg[0],top:cfg.leftLeg[1],data:[fieldName]});
 legend.push({...lf,left:cfg.rightLeg[0],top:cfg.rightLeg[1],data:cfg.names});
 if(cfg.title)title.push({text:cfg.title,left:(box[0]+box[2])/2,top:box[1]-29,textAlign:'center',textStyle:{fontFamily:SERIF,fontSize:25,fontWeight:'normal',color:'#000'}});
}

/* ---------- panels ---------- */
efieldPanel([148,151,920,1133],upEuHigh,upEvHigh,downEuHigh,downEvHigh,[161,166],533,113);
windPanel([1075,151,1847,1133],[1088,943],1460,113);
densityPanel([148,1330,920,2311],[161,1345],[592,1345]);
joulePanel([1075,1330,1847,2311],dnQjeHigh,dnQjHigh,upQjeHigh,upQjHigh,[1088,1345]);
efieldPanel([2070,147,2849,1130],upEuLow,upEvLow,downEuLow,downEvLow,[2083,162],2459,109);
windPanel([3005,147,3783,1130],[3019,939],3394,109);
densityPanel([2071,1327,2849,2310],[2085,1342],[2519,1342]);
joulePanel([3004,1327,3783,2310],dnQjeLow,dnQjLow,upQjeLow,upQjLow,[3019,1342]);

const legHigh={legSwatch:43,legFont:21.5,legPad:10},legLow={legSwatch:41,legFont:20.5,legPad:9};
scanPanel([103,2454,1851,2901],{...legHigh,title:'Auroral Jets High Flyer',maxCounts:2000,step:200,minor:4,countsGap:60,counts:[c1Blue,c1Orange,c1Green],names:stampsHighTop,field:fieldHighTop,span:[78.2,77.8],leftLeg:[113,2464],rightLeg:[1503,2464]});
scanPanel([2101,2483,3781,2917],{...legLow,title:'Auroral Jets Low Flyer',maxCounts:2000,step:200,minor:4,countsGap:58,counts:[c2Blue,c2Orange,c2Green],names:stampsLowTop,field:fieldLowTop,span:[66.2,63.1],leftLeg:[2111,2493],rightLeg:[3446,2493]});
scanPanel([103,2991,1851,3437],{...legHigh,maxCounts:800,step:50,minor:5,countsGap:46,counts:[c3Blue,c3Orange,c3Green],names:stampsHighBottom,field:fieldHighBottom,span:[35.4,23.9],leftLeg:[113,3000],rightLeg:[1503,3000]});
scanPanel([2101,3003,3781,3437],{...legLow,maxCounts:800,step:50,minor:5,countsGap:44,counts:[c4Blue,c4Orange,c4Green],names:stampsLowBottom,field:fieldLowBottom,span:[36,22.3],leftLeg:[2111,3013],rightLeg:[3446,3013]});

title.push({text:'Jets high flyer 2017-03-02 05:41:18',left:969,top:35,textAlign:'center',textStyle:{fontFamily:SERIF,fontSize:39,fontWeight:'normal',color:'#000'}});
title.push({text:'Jets low flyer 2017-03-02 05:41:18',left:2897,top:29,textAlign:'center',textStyle:{fontFamily:SERIF,fontSize:39,fontWeight:'normal',color:'#000'}});

const bigLabel=(text,x,y)=>({type:'text',left:x,top:y,z:120,style:{text,fontFamily:'Liberation Serif',fontWeight:'bold',fontSize:105,fill:'#000'}});
const graphic=[
 {type:'rect',left:300,top:2362,z:100,shape:{width:1600,height:58},style:{fill:'#fff'}},
 bigLabel('2)',-13,2305),bigLabel('3)',1905,2325),bigLabel('4)',-25,3405),bigLabel('5)',1899,3398)
];

echarts.init(document.getElementById('c'),null,{renderer:'canvas'}).setOption({animation:false,backgroundColor:'#fff',grid,xAxis,yAxis,series,legend,title,graphic});
</script></body></html>
